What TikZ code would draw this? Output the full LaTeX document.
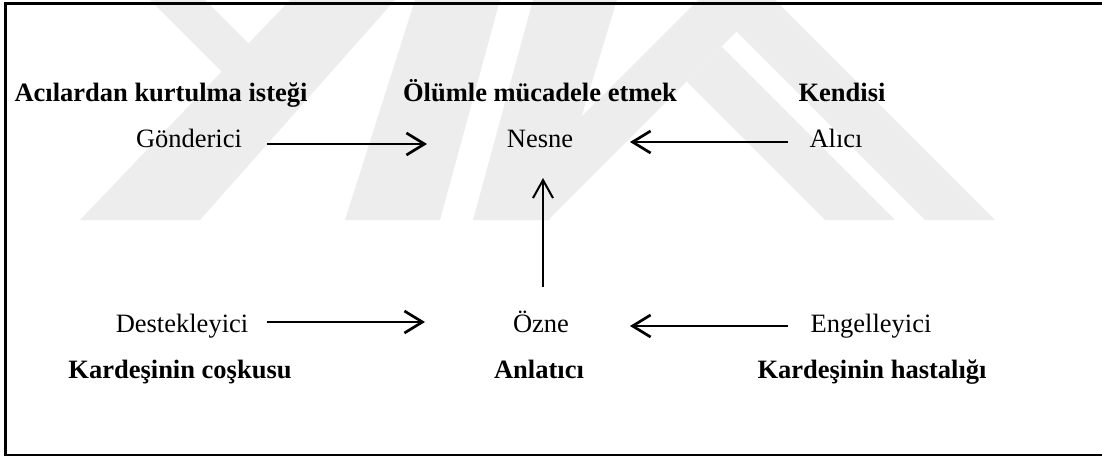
\documentclass[tikz,border=0pt]{standalone}
\usepackage{fontspec}
\setmainfont{Liberation Serif}
\usetikzlibrary{arrows.meta}
\tikzset{
  lbl/.style={anchor=base, inner sep=0pt, font=\fontsize{26.5}{30}\selectfont},
  blbl/.style={lbl, font=\fontsize{26.5}{30}\selectfont\bfseries},
  harr/.style={line width=2.7, -{Straight Barb[length=18,width=22,line width=2.7]}},
  varr/.style={line width=2, -{Straight Barb[length=18,width=20,line width=2]}},
  wm/.style={fill=black!7, draw=none},
  frame/.style={line width=2.7}
}
\begin{document}
\begin{tikzpicture}[x=1pt,y=-1pt]
\useasboundingbox (0,0) rectangle (1102,457);
\begin{scope}
\clip (0,0) rectangle (1102,457);
% watermark
\fill[wm] (150,0) -- (205,0) -- (250,45) -- (225,75) -- cycle;
\fill[wm] (290,0) -- (395,0) -- (200,220) -- (80,220) -- cycle;
\fill[wm] (415,0) -- (500,0) -- (440,220) -- (345,220) -- cycle;
\fill[wm] (533,0) -- (617,0) -- (550,220) -- (473,220) -- cycle;
\fill[wm] (698,0) -- (775,0) -- (995,220) -- (925,220) -- (736.5,31.5) -- (548,220) -- (478,220) -- cycle;
\fill[wm] (721.5,46.5) -- (895,220) -- (825,220) -- (686.5,81.5) -- cycle;
% frame
\draw[frame] (5.7,3.8) rectangle (1115,455);
\end{scope}
% labels
\node[blbl] (r1) at (161,102) {Acılardan kurtulma isteği};
\node[blbl] (o1) at (540,102) {Ölümle mücadele etmek};
\node[blbl] (k1) at (842,102) {Kendisi};
\node[lbl] (gond) at (189,147.3) {Gönderici};
\node[lbl] (nesne) at (540,147.3) {Nesne};
\node[lbl] (alici) at (836,147.3) {Alıcı};
\node[lbl] (dest) at (182,332) {Destekleyici};
\node[lbl] (ozne) at (541,332) {Özne};
\node[lbl] (engel) at (871,332) {Engelleyici};
\node[blbl] (kc) at (180,378) {Kardeşinin coşkusu};
\node[blbl] (anl) at (539,378) {Anlatıcı};
\node[blbl] (kh) at (872,378) {Kardeşinin hastalığı};
% connector end points
\coordinate (a1s) at (267,144);
\coordinate (a1e) at (427,144);
\coordinate (a2s) at (788,142);
\coordinate (a2e) at (630,142);
\coordinate (a3s) at (543,287);
\coordinate (a3e) at (543,178);
\coordinate (a4s) at (267,322);
\coordinate (a4e) at (425,322);
\coordinate (a5s) at (788,326);
\coordinate (a5e) at (630,326);
\draw[harr] (a1s) -- (a1e);
\draw[harr] (a2s) -- (a2e);
\draw[varr] (a3s) -- (a3e);
\draw[harr] (a4s) -- (a4e);
\draw[harr] (a5s) -- (a5e);
\end{tikzpicture}
\end{document}
